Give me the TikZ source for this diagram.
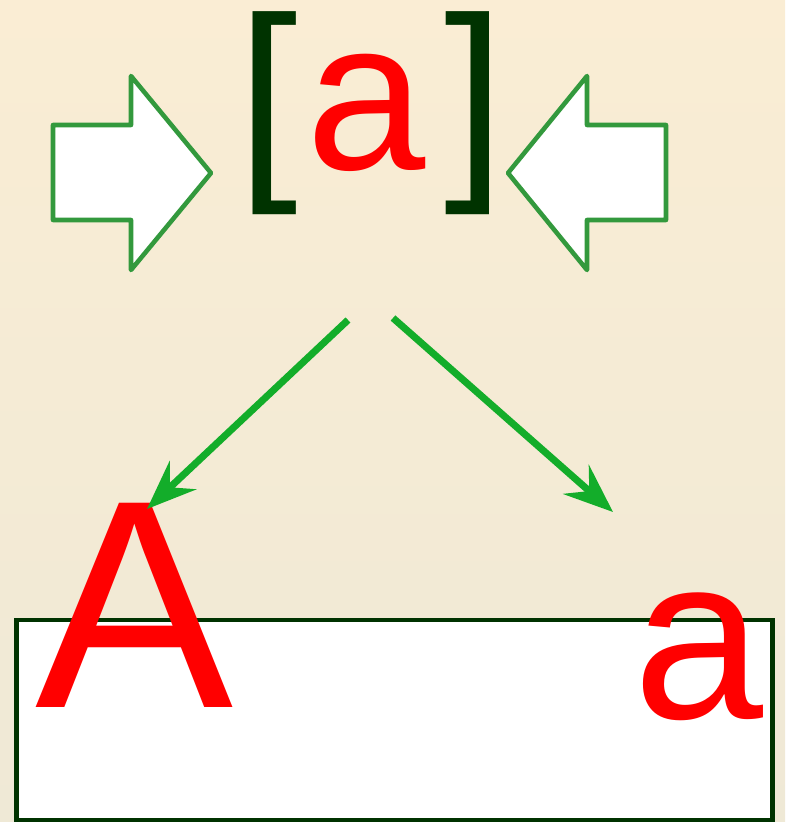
\documentclass[tikz,border=0pt]{standalone}
\usepackage{fontspec}
\setmainfont{Liberation Sans}
\usetikzlibrary{arrows.meta,positioning}
\definecolor{bgtop}{RGB}{250,237,212}
\definecolor{bgbottom}{RGB}{239,233,214}
\definecolor{outlinegreen}{RGB}{51,153,61}
\definecolor{arrowgreen}{RGB}{19,173,42}
\definecolor{darkgreen}{RGB}{0,51,0}
\definecolor{letterred}{RGB}{255,0,0}

\begin{document}
\begin{tikzpicture}[
  x=0.02cm, y=-0.02cm,
  letter/.style={
    inner sep=0pt,
    text=letterred,
    anchor=base west
  },
  blockarrow/.style={
    draw=outlinegreen,
    fill=white,
    line width=2.6pt,
    line join=round
  },
  split/.style={
    draw=arrowgreen,
    line width=4pt,
    -{Stealth[length=28pt,width=22pt,inset=10pt]}
  }
]

% Background
\shade[top color=bgtop, bottom color=bgbottom] (0,0) rectangle (785,822);
\useasboundingbox (0,0) rectangle (785,822);

% Top: bracketed letter
\node[inner sep=0pt, anchor=base west, font=\fontsize{124}{124}\selectfont]
  (bracket) at (237,169)
{{\color{darkgreen}[}\kern5pt%
{\color{letterred}\fontsize{122}{122}\selectfont a}\kern10.5pt%
{\color{darkgreen}]}};

% Hollow arrows pointing inward
\draw[blockarrow] (53,125) -- (131,125) -- (131,76) -- (211,173)
  -- (131,270) -- (131,220) -- (53,220) -- cycle;
\draw[blockarrow] (666,125) -- (587,125) -- (587,76) -- (508,173)
  -- (587,270) -- (587,220) -- (666,220) -- cycle;

% Bottom box
\node[draw=darkgreen, line width=2.8pt, fill=white, inner sep=0pt,
  minimum width=15.14cm, minimum height=4cm] (base) at (394.5,720) {};

% Letters
\node[letter, font=\fontsize{169}{169}\selectfont] (upper) at (35,707) {A};
\node[letter, font=\fontsize{133}{133}\selectfont] (lower) at (633,718) {a};

% Splitting arrows
\coordinate (leftstart) at (348,320);
\coordinate (rightstart) at (393,318);
\coordinate (leftend) at (147,509);
\coordinate (rightend) at (613,512);
\draw[split] (leftstart) -- (leftend);
\draw[split] (rightstart) -- (rightend);

\end{tikzpicture}
\end{document}
